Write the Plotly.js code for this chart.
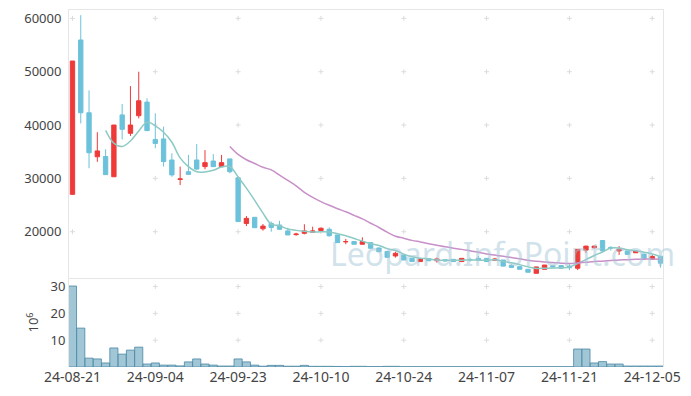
<!DOCTYPE html>
<html><head><meta charset="utf-8">
<script src="https://cdn.plot.ly/plotly-3.0.1.min.js"></script>
<style>html,body{margin:0;padding:0;background:#fff}#chart{width:691px;height:396px}</style>
</head><body><div id="chart"></div>
<script>
const dates = ["24-08-21","24-08-22","24-08-23","24-08-26","24-08-27","24-08-28","24-08-29","24-08-30",
"24-09-02","24-09-03","24-09-04","24-09-05","24-09-06","24-09-09","24-09-10","24-09-11","24-09-12","24-09-13",
"24-09-19","24-09-20","24-09-23","24-09-24","24-09-25","24-09-26","24-09-27","24-09-30","24-10-02","24-10-04",
"24-10-07","24-10-08","24-10-10","24-10-11","24-10-14","24-10-15","24-10-16","24-10-17","24-10-18","24-10-21",
"24-10-22","24-10-23","24-10-24","24-10-25","24-10-28","24-10-29","24-10-30","24-10-31","24-11-01","24-11-04",
"24-11-05","24-11-06","24-11-07","24-11-08","24-11-11","24-11-12","24-11-13","24-11-14","24-11-15","24-11-18",
"24-11-19","24-11-20","24-11-21","24-11-22","24-11-25","24-11-26","24-11-27","24-11-28","24-11-29","24-12-02",
"24-12-03","24-12-04","24-12-05","24-12-06"];
const openP = [27000,55950,42300,34050,34100,30300,41900,38450,41750,44300,37300,37400,33450,29800,31250,33450,32200,33250,32200,33650,
30100,21550,22700,20550,21550,21250,20150,19450,19700,19900,20200,20450,19400,18100,18150,17650,17950,16950,16300,15450,
15650,15000,14400,14950,14550,14750,14820,14400,14800,15000,15000,14650,14700,13650,13450,12950,12200,12950,13600,13650,
13550,13150,16550,17000,18350,17050,16400,16400,16050,15800,14850,15400];
const highP = [52000,60600,46500,38650,35450,40000,43950,47300,50000,45000,42200,39700,34700,32200,34400,36450,35300,34550,34400,33650,
30150,22950,22750,21450,21900,22050,20750,19800,21400,20950,20800,20800,19400,18650,18150,18950,17950,17000,16350,16250,
15650,15000,14900,15000,15150,14750,14820,15000,15150,15450,15000,15100,14700,13900,13450,12950,13400,13750,13650,13700,
13900,16700,17350,17350,18400,17300,17300,16400,16400,15850,15650,15450];
const lowP = [27000,40300,31900,33100,30700,30300,37300,37950,41250,38900,35650,32200,30300,28750,30650,31600,31700,32150,32150,30950,
21850,21050,20700,20200,20000,20400,19350,19250,19500,19850,20150,19050,17900,17650,17600,17650,16850,16200,15150,15150,
14650,14350,14350,14500,14200,14450,14350,14350,14350,14650,14350,14600,13500,13300,12950,12350,12200,12950,13350,13100,
12800,12800,16050,16820,16350,16450,15650,15700,16000,14950,14800,13250];
const closeP = [52000,42300,34800,35150,30700,40000,39200,40000,44550,38950,36550,33150,30650,29900,30750,31750,32950,32200,32950,31250,
21900,22500,20750,21050,20800,20450,19400,19550,20150,20150,20650,19250,17950,18150,17650,18150,16900,16250,15200,15950,
14700,14400,14900,14550,14900,14500,14400,15000,14750,14700,14400,14850,13550,13300,12950,12400,13400,13750,13400,13150,
13250,16700,17300,17300,16400,16950,16700,15750,16350,15000,15350,14100];
const ma5 = [null,null,null,null,38990,36590,35970,37010,38890,40540,39850,38640,36770,33840,32200,31240,31200,31510,32120,32220,
30250,28160,25870,23490,21400,21110,20490,20250,20070,19940,19980,19950,19630,19230,18730,18230,17760,17420,16830,16490,
15800,15300,15030,14900,14690,14650,14650,14670,14710,14670,14650,14740,14450,14160,13810,13410,13120,13160,13180,13220,
13390,14050,14760,15540,16190,16930,16930,16620,16430,16150,15830,15310];
const ma20 = [null,null,null,null,null,null,null,null,null,null,null,null,null,null,null,null,null,null,null,35988,
34483,33493,32790,32085,31590,30613,29623,28600,27380,26440,25645,24950,24315,23728,23073,22393,21590,20793,19905,19140,
18780,18375,18083,17758,17463,17165,16915,16688,16418,16145,15833,15613,15393,15150,14915,14628,14453,14328,14238,14098,
14025,14140,14260,14398,14473,14595,14710,14748,14828,14843,14890,14853];
const volume = [30.2,14.5,3.3,3.0,1.5,7.1,4.8,6.3,7.4,1.1,1.5,0.7,0.7,0.4,1.9,3.0,1.1,0.7,0.35,0.35,
3.0,1.9,0.7,0.3,0.6,0.6,0.3,0.3,0.6,0.25,0.25,0.25,0.2,0.15,0.25,0.25,0.15,0.15,0.25,0.25,
0.1,0.1,0.1,0.1,0.1,0.1,0.1,0.1,0.1,0.1,0.1,0.1,0.1,0.1,0.1,0.1,0.1,0.1,0.1,0.1,
0.1,6.7,6.7,1.5,2.0,1.1,1.1,0.35,0.35,0.35,0.35,0.35];
const xTickLabels = ["24-08-21","24-09-04","24-09-23","24-10-10","24-10-24","24-11-07","24-11-21","24-12-05"];
const priceTicks = [20000,30000,40000,50000,60000];
const volTicks = [10,20,30];

const RED = '#ef3a3a', BLUE = '#6cc2da';
const GRIDC = '#dcdcdc';
const shapes = [];
function addCross(xref, yref, xi, yv) {
  shapes.push({type:'line', layer:'below', xref:xref, yref:yref, xsizemode:'pixel', xanchor:xi, x0:-2.5, x1:2.5, y0:yv, y1:yv, line:{color:GRIDC, width:1}});
  shapes.push({type:'line', layer:'below', xref:xref, yref:yref, ysizemode:'pixel', yanchor:yv, y0:-2.5, y1:2.5, x0:xi, x1:xi, line:{color:GRIDC, width:1}});
}
xTickLabels.forEach(d => {
  const xi = dates.indexOf(d);
  priceTicks.forEach(p => addCross('x', 'y', xi, p));
  if (xi > 0) volTicks.forEach(v => addCross('x2', 'y2', xi, v));
});

const traces = [
  {type:'bar', x:dates, y:volume, xaxis:'x2', yaxis:'y2',
   marker:{color:'rgba(130,180,200,0.75)', line:{color:'rgba(80,140,168,0.85)', width:1}}},
  {type:'candlestick', x:dates, open:openP, high:highP, low:lowP, close:closeP, xaxis:'x', yaxis:'y',
   increasing:{line:{color:RED, width:1}, fillcolor:RED},
   decreasing:{line:{color:BLUE, width:1}, fillcolor:BLUE}, whiskerwidth:0},
  {type:'scatter', mode:'lines', x:dates, y:ma5, line:{color:'#8ccac4', width:1.5, shape:'spline'}, xaxis:'x', yaxis:'y', connectgaps:false},
  {type:'scatter', mode:'lines', x:dates, y:ma20, line:{color:'#c890c8', width:1.5, shape:'spline'}, xaxis:'x', yaxis:'y', connectgaps:false}
];
const FONT = {family:'"Noto Sans", sans-serif', size:13, color:'#444'};
const layout = {
  width:691, height:396, margin:{l:69, r:28, t:10, b:29},
  paper_bgcolor:'#fff', plot_bgcolor:'#fff', showlegend:false, font:FONT,
  bargap:0.02, boxgap:0.25, shapes:shapes,
  xaxis:{type:'category', categoryorder:'array', categoryarray:dates, domain:[0,1], anchor:'y', matches:'x2', range:[-0.42,71.3], showticklabels:false,
    rangeslider:{visible:false}, showgrid:false, showline:true, mirror:true, linecolor:'#e6e6e6', ticks:'', zeroline:false},
  yaxis:{domain:[0.2493,1], range:[11320,61570], tickvals:priceTicks, tickformat:'d', showgrid:false, zeroline:false,
    showline:true, mirror:true, linecolor:'#e6e6e6', ticks:'', ticklabelstandoff:4},
  xaxis2:{type:'category', categoryorder:'array', categoryarray:dates, domain:[0,1], anchor:'y2', range:[-0.42,71.3], tickvals:xTickLabels, ticktext:xTickLabels,
    showgrid:false, showline:false, ticks:'', zeroline:false, tickangle:0, tickfont:{size:14, color:'#444'}},
  yaxis2:{domain:[0,0.2493], range:[0,33.2], tickvals:volTicks, showgrid:false, zeroline:false, showline:true, mirror:true,
    linecolor:'#e6e6e6', ticks:'', title:{text:'10<sup>6</sup>', font:{size:13, color:'#444'}, standoff:8}},
  annotations:[{text:'Leopard.InfoPoint.com', xref:'paper', yref:'paper', x:0.73, xanchor:'center', y:0.319, yanchor:'middle', showarrow:false,
    font:{family:'"Noto Sans", sans-serif', size:32, color:'rgba(165,198,215,0.5)'}}]
};
Plotly.newPlot('chart', traces, layout, {displayModeBar:false, staticPlot:true});
</script></body></html>
